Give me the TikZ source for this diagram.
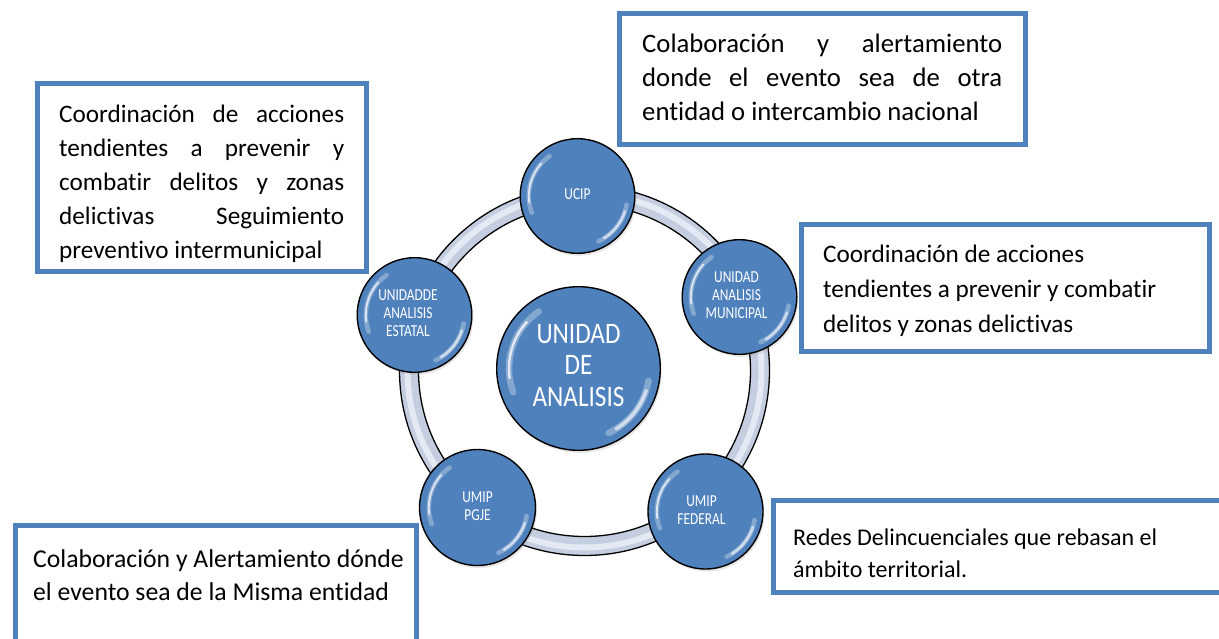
\documentclass[tikz,border=0pt]{standalone}
\usepackage{fontspec}
\setmainfont{Carlito}[Ligatures=NoCommon]
\usepackage{graphicx}
\usetikzlibrary{calc,shadows}
\definecolor{blueC}{RGB}{79,129,189}
\definecolor{ringC}{RGB}{196,206,224}
\definecolor{ringL}{RGB}{228,233,243}
\newcommand\vst[2]{\scalebox{1}[#1]{\begin{tabular}{@{}c@{}}#2\end{tabular}}}
\newcommand\jl[1]{\makebox[\linewidth][s]{#1}}
\newcommand\hlarcs[1]{%
  \pgfmathsetmacro\wa{#1*0.08}%
  \pgfmathsetmacro\wb{#1*0.03}%
  \pgfmathsetmacro\wc{#1*0.045}%
  \pgfmathsetmacro\ra{#1*0.85}%
  \pgfmathsetmacro\rb{#1*0.87}%
  \coordinate (hc) at (path picture bounding box.center);
  \draw[white, opacity=.3, line width=\wa pt, line cap=round]
    ($(hc)+(-125:\ra)$) arc[start angle=-125, end angle=-200, radius=\ra];
  \draw[white, opacity=.75, line width=\wb pt, line cap=round]
    ($(hc)+(-138:\ra)$) arc[start angle=-138, end angle=-188, radius=\ra];
  \draw[white, opacity=.3, line width=\wa pt, line cap=round]
    ($(hc)+(10:\rb)$) arc[start angle=10, end angle=65, radius=\rb];
  \draw[white, opacity=.6, line width=\wc pt, line cap=round]
    ($(hc)+(18:\rb)$) arc[start angle=18, end angle=58, radius=\rb];
}
\begin{document}
\begin{tikzpicture}[x=1pt,y=-1pt,
  box/.style={draw=blueC, line width=5pt, fill=white, rectangle, inner sep=0},
  txt/.style={anchor=base west, inner sep=0, text=black},
  bub/.style={circle, draw=black, line width=1.4pt, fill=blueC, text=white,
    inner sep=0, minimum size=#1,
    drop shadow={opacity=0.2, shadow xshift=1.5pt, shadow yshift=-2.5pt}},
  hlsmall/.style={path picture={\hlarcs{57.3}}},
  hlbig/.style={path picture={\hlarcs{81.8}}},
  smalltxt/.style={font=\fontsize{13.4}{14.5}\selectfont},
  bigtxt/.style={font=\fontsize{25.2}{26.5}\selectfont}]
\useasboundingbox (0,0) rectangle (1219,639);
\clip (0,0) rectangle (1219,639);

% text boxes
\node[box, minimum width=406, minimum height=131] (btr) at (822.5,79) {};
\node[box, minimum width=329.5, minimum height=187.5] (btl) at (201.75,177.75) {};
\node[box, minimum width=408, minimum height=127] (bmr) at (1005,288) {};
\node[box, minimum width=452, minimum height=92] (bbr) at (999,546) {};
\node[box, minimum width=400.5, minimum height=124.5] (bbl) at (215.75,587.75) {};

% ring
\coordinate (rc) at (584.5,370.5);
\draw[ringC, line width=19pt] (rc) circle[radius=175.5];
\draw[ringL, line width=6pt] (rc) circle[radius=177];
\draw[black, line width=1.3pt] (rc) circle[radius=185] (rc) circle[radius=166];

% bubbles
\node[bub=163.6, hlbig, bigtxt] (cen) at (578.5,368.5) {\vst{1.18}{UNIDAD\\DE\\ANALISIS}};
\node[bub=114.6, hlsmall, smalltxt] (ucip) at (577.5,196) {\vst{1.25}{UCIP}};
\node[bub=114.6, hlsmall, smalltxt] (mun) at (739.5,297) {\vst{1.25}{UNIDAD\\ANALISIS\\MUNICIPAL}\kern6pt};
\node[bub=114.6, hlsmall, smalltxt] (est) at (414.5,315) {\vst{1.25}{UNIDADDE\\ANALISIS\\ESTATAL}\kern13pt};
\node[bub=116, hlsmall, smalltxt] (pgje) at (477.5,507.5) {\vst{1.25}{UMIP\\PGJE}};
\node[bub=115, hlsmall, smalltxt] (fed) at (705.5,511.5) {\vst{1.25}{UMIP\\FEDERAL}\kern8pt};

% texts
\node[txt, font=\fontsize{26.7}{34}\selectfont] (ttr) at (642,53)
  {\parbox[t]{360pt}{\jl{Colaboración y alertamiento}\\\jl{donde el evento sea de otra}\\entidad o intercambio nacional}};
\node[txt, font=\fontsize{25.2}{34}\selectfont] (ttl) at (59,122.3)
  {\parbox[t]{285pt}{\jl{Coordinación de acciones}\\\jl{tendientes a prevenir y}\\\jl{combatir delitos y zonas}\\\jl{delictivas Seguimiento}\\preventivo intermunicipal}};
\node[txt, font=\fontsize{25.2}{35}\selectfont] (tmr) at (823,262.3)
  {\parbox[t]{380pt}{Coordinación de acciones\\tendientes a prevenir y combatir\\delitos y zonas delictivas}};
\node[txt, font=\fontsize{24}{32}\selectfont] (tbr) at (793,545)
  {\parbox[t]{420pt}{Redes Delincuenciales que rebasan el\\ámbito territorial.}};
\node[txt, font=\fontsize{25.7}{33}\selectfont] (tbl) at (33,567)
  {\parbox[t]{380pt}{Colaboración y Alertamiento dónde\\el evento sea de la Misma entidad}};
\end{tikzpicture}
\end{document}
